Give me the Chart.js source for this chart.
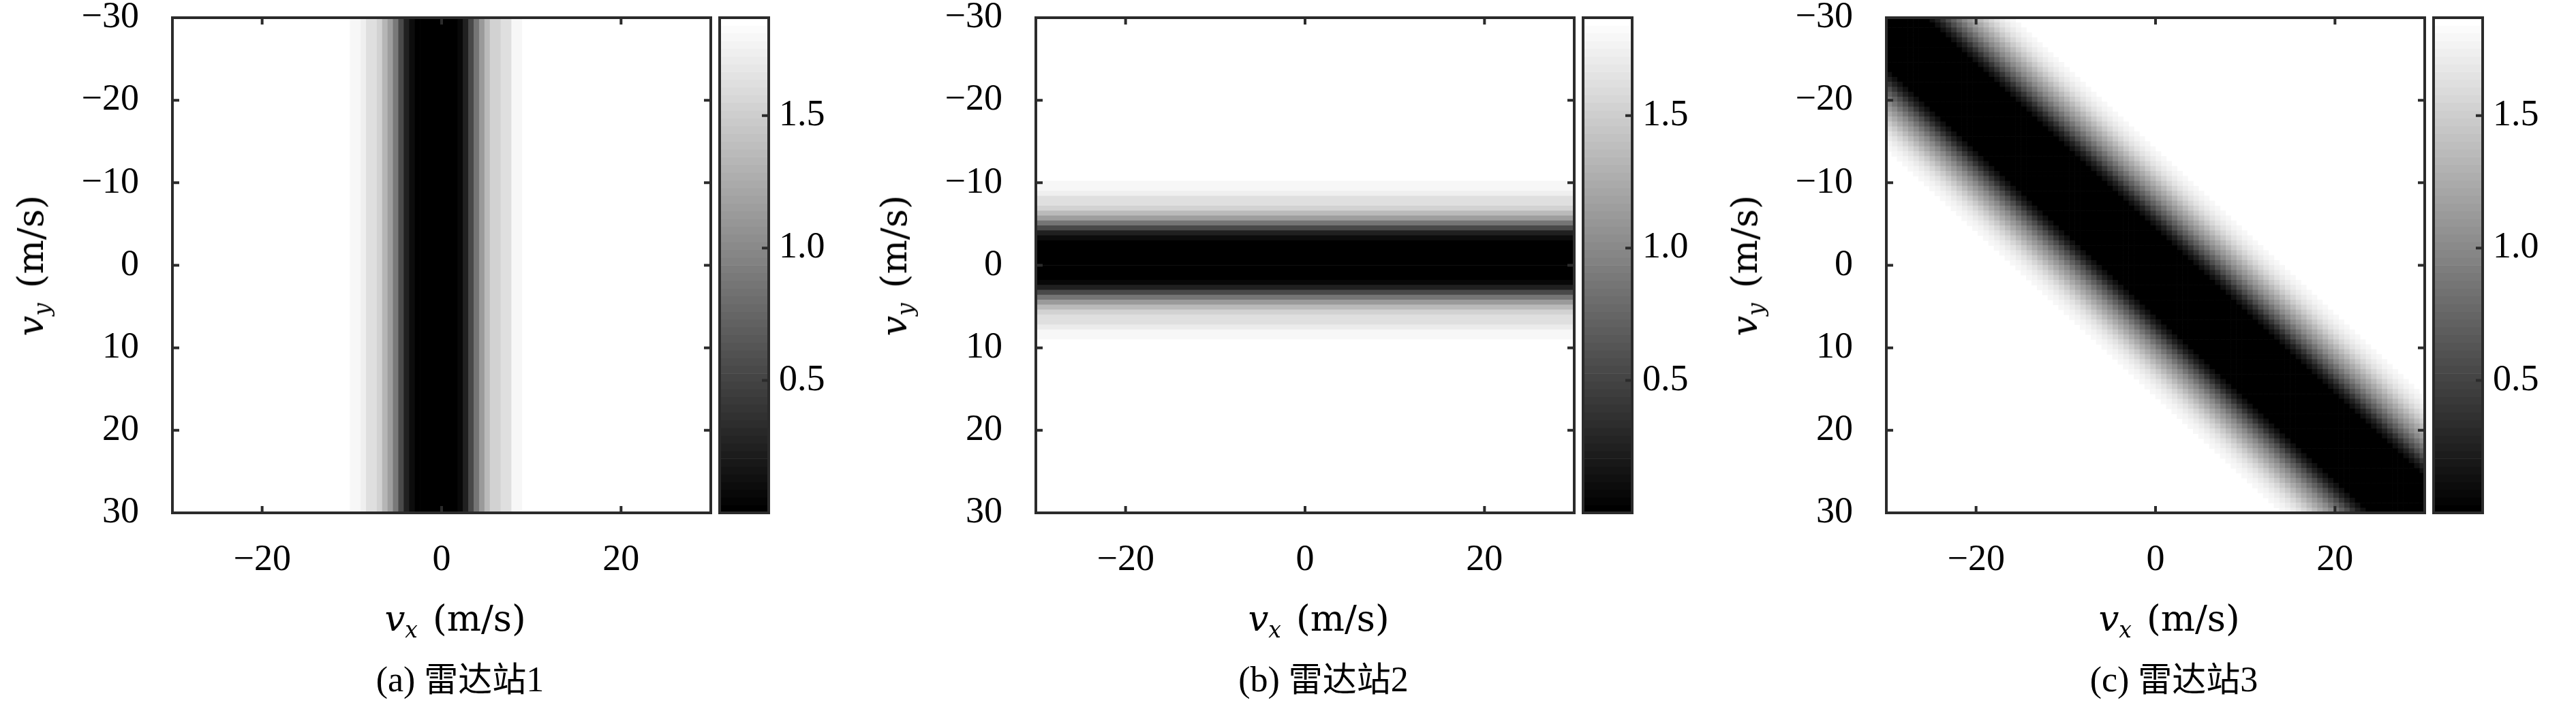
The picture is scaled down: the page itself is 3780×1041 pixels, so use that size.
<!DOCTYPE html>
<html>
<head>
<meta charset="utf-8">
<script src="https://cdn.jsdelivr.net/npm/chart.js@4.4.0/dist/chart.umd.min.js"></script>
<style>
  html, body { margin: 0; padding: 0; background: #fff; }
  #wrap { position: relative; width: 3780px; height: 1041px; overflow: hidden; background: #fff; }
  .box { position: absolute; top: 0; }
  .txt { position: absolute; white-space: nowrap; font: 52px 'Liberation Serif', 'Noto Sans CJK SC', serif; color: #000;
         transform: translate(-50%, -50%); line-height: 1; }
  .ttl { font-family: 'DejaVu Serif', serif; font-size: 53px; }
  .ttl .gap { display: inline-block; width: 22px; }
  .rot { transform: translate(-50%, -50%) rotate(-90deg); }
  .txt i { font-style: italic; }
  .txt sub { font-size: 33px; vertical-align: -10px; font-style: italic; }
  .cjk { font-family: 'Noto Sans CJK SC', serif; font-size: 50px; }
</style>
</head>
<body>
<div id="wrap"></div>
<script>
// grid of the velocity plane: 100 cells of 0.6 m/s between -30 and 30
const V_MIN = -30, V_MAX = 30, STEP = 0.6, N_CELLS = 100;
const yTicks = [-30, -20, -10, 0, 10, 20, 30];
const xTicks = [-20, 0, 20];
const cbarTicks = [0.5, 1.0, 1.5];
const C_MIN = 0, C_MAX = 1.87;
const BG_VALUE = 1.87;          // flat (white) part of every map

// station 1: value per v_x column, starting at column 33 (the rest is BG_VALUE)
const band1Start = 33;
const band1 = [1.81, 1.81, 1.75, 1.64, 1.64, 1.53, 1.35, 1.17, 0.89, 0.54, 0.25, 0.09,
               0, 0, 0, 0, 0, 0, 0, 0,
               0.07, 0.25, 0.54, 0.87, 1.13, 1.37, 1.53, 1.53, 1.64, 1.64, 1.80, 1.80];

// station 2: value per v_y row, starting at row 33
const band2Start = 33;
const band2 = [1.81, 1.81, 1.75, 1.64, 1.64, 1.53, 1.37, 1.17, 0.87, 0.54, 0.25, 0.09,
               0, 0, 0, 0, 0, 0, 0, 0,
               0.07, 0.25, 0.54, 0.87, 1.13, 1.37, 1.53, 1.64, 1.64, 1.71, 1.80, 1.80];

// station 3: value per diagonal k = column - row, starting at k = -26
const band3Start = -26;
const band3 = [1.82, 1.78, 1.73, 1.66, 1.58, 1.48, 1.37, 1.25, 1.13, 1.00, 0.87, 0.72, 0.56, 0.40, 0.25, 0.12,
               0, 0, 0, 0, 0, 0, 0, 0, 0, 0, 0, 0, 0, 0, 0, 0, 0, 0,
               0.12, 0.25, 0.40, 0.56, 0.72, 0.87, 1.00, 1.13, 1.25, 1.37, 1.48, 1.58, 1.66, 1.73, 1.78, 1.82];

const captions = ['(a) 雷达站1', '(b) 雷达站2', '(c) 雷达站3'];

// layout (px)
const PLOT_LEFT = [253, 1520, 2768];
const PLOT_W = 790;
const PLOT_TOP = 26, PLOT_BOTTOM = 753;
const CBAR_GAP = 13, CBAR_W = 72;
const FONT = "'Liberation Serif', serif";
const TICK_FS = 54;

const centers = [];
for (let i = 0; i < N_CELLS; i++) centers.push(V_MIN + STEP * (i + 0.5));

// 64-level gray colormap
function grayOf(v) {
  let t = (v - C_MIN) / (C_MAX - C_MIN);
  t = Math.max(0, Math.min(1, t));
  const g = Math.round(Math.round(t * 63) / 63 * 255);
  return `rgb(${g},${g},${g})`;
}
const fmt = v => (v < 0 ? '\u2212' + Math.abs(v) : String(v));

// frame + inward ticks
function framePlugin(xt, yt, sides) {
  return {
    id: 'frame',
    afterDraw(chart) {
      const { ctx, chartArea: a, scales } = chart;
      const L = 10;
      ctx.save();
      ctx.strokeStyle = '#2b2b2b';
      ctx.lineWidth = 4;
      ctx.strokeRect(a.left, a.top, a.right - a.left, a.bottom - a.top);
      ctx.beginPath();
      const ys = scales.y;
      yt.forEach(v => {
        const p = ys.getPixelForValue(v);
        if (sides.left) { ctx.moveTo(a.left, p); ctx.lineTo(a.left + L, p); }
        if (sides.right) { ctx.moveTo(a.right, p); ctx.lineTo(a.right - L, p); }
      });
      if (xt.length) {
        const xs = scales.x;
        xt.forEach(v => {
          const p = xs.getPixelForValue(v);
          ctx.moveTo(p, a.bottom); ctx.lineTo(p, a.bottom - L);
          ctx.moveTo(p, a.top); ctx.lineTo(p, a.top + L);
        });
      }
      ctx.stroke();
      ctx.restore();
    }
  };
}

function addCanvas(left, width, height) {
  const d = document.createElement('div');
  d.className = 'box';
  d.style.left = left + 'px';
  d.style.width = width + 'px';
  d.style.height = height + 'px';
  const c = document.createElement('canvas');
  c.width = width; c.height = height;
  c.style.width = width + 'px'; c.style.height = height + 'px';
  d.appendChild(c);
  document.getElementById('wrap').appendChild(d);
  return c.getContext('2d');
}

function addText(html, x, y, cls) {
  const s = document.createElement('div');
  s.className = 'txt' + (cls ? ' ' + cls : '');
  s.style.left = x + 'px';
  s.style.top = y + 'px';
  s.innerHTML = html;
  document.getElementById('wrap').appendChild(s);
}

const CANVAS_H = 880;
const YAXIS_W = 220;

// no extra room for the end labels: the plot box is placed by hand
const noPad = s => { s.paddingTop = 0; s.paddingBottom = 0; s.paddingLeft = 0; s.paddingRight = 0; };

function axisScales() {
  const tickFont = { family: FONT, size: TICK_FS };
  const lin = {
    type: 'linear', min: V_MIN, max: V_MAX, offset: false,
    grid: { display: false, drawTicks: false, offset: false }, border: { display: false }
  };
  return {
    x: Object.assign({}, lin, {
      position: 'bottom',
      afterBuildTicks: s => { s.ticks = xTicks.map(v => ({ value: v })); },
      ticks: { font: tickFont, color: '#000', padding: 37, maxRotation: 0, autoSkip: false, callback: v => fmt(v) },
      afterFit: s => { s.height = CANVAS_H - PLOT_BOTTOM; noPad(s); }
    }),
    y: Object.assign({}, lin, {
      reverse: true, position: 'left',
      afterBuildTicks: s => { s.ticks = yTicks.map(v => ({ value: v })); },
      ticks: { font: tickFont, color: '#000', padding: 49, autoSkip: false, callback: v => fmt(v) },
      afterFit: s => { s.width = YAXIS_W; noPad(s); }
    })
  };
}

function mainChart(p, datasets, horizontal) {
  const left = PLOT_LEFT[p] - YAXIS_W;
  const ctx = addCanvas(left, YAXIS_W + PLOT_W + 6, CANVAS_H);
  return new Chart(ctx, {
    type: 'bar',
    data: { datasets },
    options: {
      animation: false, responsive: false, maintainAspectRatio: false,
      indexAxis: horizontal ? 'y' : 'x',
      layout: { padding: { top: PLOT_TOP, right: 6, left: 0, bottom: 0 } },
      plugins: { legend: { display: false }, tooltip: { enabled: false } },
      scales: axisScales()
    },
    plugins: [framePlugin(xTicks, yTicks, { left: true, right: true })]
  });
}

const barOpts = { borderWidth: 0, barPercentage: 1, categoryPercentage: 1, grouped: false };

// (a) station 1: one full-height bar per v_x column
const val1 = centers.map((_, i) => (i >= band1Start && i < band1Start + band1.length) ? band1[i - band1Start] : BG_VALUE);
mainChart(0, [Object.assign({
  data: centers.map(x => ({ x, y: [V_MIN, V_MAX] })),
  backgroundColor: val1.map(grayOf)
}, barOpts)], false);

// (b) station 2: one full-width bar per v_y row
const val2 = centers.map((_, j) => (j >= band2Start && j < band2Start + band2.length) ? band2[j - band2Start] : BG_VALUE);
mainChart(1, [Object.assign({
  data: centers.map(y => ({ y, x: [V_MIN, V_MAX] })),
  backgroundColor: val2.map(grayOf)
}, barOpts)], true);

// (c) station 3: background columns + one dataset per diagonal
const sets3 = [Object.assign({
  order: 1,
  data: centers.map(x => ({ x, y: [V_MIN, V_MAX] })),
  backgroundColor: grayOf(BG_VALUE)
}, barOpts)];
band3.forEach((v, n) => {
  const k = band3Start + n;
  const pts = [];
  centers.forEach((x, i) => {
    const j = i - k;
    if (j >= 0 && j < N_CELLS) pts.push({ x, y: [V_MIN + STEP * j, V_MIN + STEP * (j + 1)] });
  });
  sets3.push(Object.assign({ order: 0, data: pts, backgroundColor: grayOf(v) }, barOpts));
});
mainChart(2, sets3, false);

// colorbars
const levels = [];
for (let l = 0; l < 64; l++) levels.push(C_MIN + (l + 0.5) * (C_MAX - C_MIN) / 64);

function colorbar(p) {
  const left = PLOT_LEFT[p] + PLOT_W + CBAR_GAP - 4;
  const W = 4 + CBAR_W + 160;
  const ctx = addCanvas(left, W, CANVAS_H);
  new Chart(ctx, {
    type: 'bar',
    data: { datasets: [Object.assign({
      data: levels.map(y => ({ y, x: [0, 1] })),
      backgroundColor: levels.map(grayOf)
    }, barOpts)] },
    options: {
      animation: false, responsive: false, maintainAspectRatio: false,
      indexAxis: 'y',
      layout: { padding: { top: PLOT_TOP, left: 4, right: 0, bottom: CANVAS_H - PLOT_BOTTOM } },
      plugins: { legend: { display: false }, tooltip: { enabled: false } },
      scales: {
        x: { type: 'linear', min: 0, max: 1, display: false,
             afterBuildTicks: s => { s.ticks = [{ value: 0 }, { value: 1 }]; } },
        y: { type: 'linear', min: C_MIN, max: C_MAX, position: 'right', offset: false,
             grid: { display: false, drawTicks: false, offset: false }, border: { display: false },
             afterBuildTicks: s => { s.ticks = cbarTicks.map(v => ({ value: v })); },
             ticks: { font: { family: FONT, size: TICK_FS }, color: '#000', padding: 15, autoSkip: false,
                      callback: v => v.toFixed(1) },
             afterFit: s => { s.width = W - 4 - CBAR_W; noPad(s); } }
      }
    },
    plugins: [framePlugin([], cbarTicks, { left: false, right: true })]
  });
}
[0, 1, 2].forEach(colorbar);

// axis titles and captions
[0, 1, 2].forEach(p => {
  const L = PLOT_LEFT[p];
  addText('<i>v</i><sub>y</sub><span class="gap"></span>(m/s)', L - 205, (PLOT_TOP + PLOT_BOTTOM) / 2, 'ttl rot');
  addText('<i>v</i><sub>x</sub><span class="gap"></span>(m/s)', L + 415, 911, 'ttl');
  const cap = captions[p];
  addText(cap.slice(0, 4) + '<span class="cjk">' + cap.slice(4, 7) + '</span>' + cap.slice(7), L + 422, 996);
});
</script>
</body>
</html>
